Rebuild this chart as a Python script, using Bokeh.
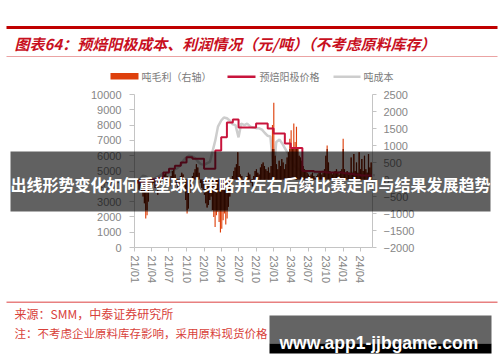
from math import pi

import pandas as pd
from bokeh.plotting import figure
from bokeh.models import (Range1d, LinearAxis, FixedTicker, DatetimeTickFormatter,
                          BoxAnnotation, Label)
from bokeh.embed import file_html
from bokeh.resources import INLINE

# ---------------- data ----------------
QUARTER_TICKS = ["2021-01", "2021-04", "2021-07", "2021-10",
                 "2022-01", "2022-04", "2022-07", "2022-10",
                 "2023-01", "2023-04", "2023-07", "2023-10",
                 "2024-01", "2024-04"]
LEFT_TICKS = [0, 1000, 2000, 3000, 4000, 5000, 6000, 7000, 8000, 9000, 10000]
RIGHT_TICKS = [-2000, -1500, -1000, -500, 0, 500, 1000, 1500, 2000, 2500]

# pre-baked anode price, monthly from 2021-01 (yuan/t)
PRICE_START = "2021-01-01"
anode_price = [4250, 4250, 4350, 4450, 4550, 4900, 5150, 5350, 5550, 5900,
               5800, 5800, 5150, 5150, 6340, 7200, 8170, 8370, 7850, 7850,
               7850, 8100, 8100, 7780, 7450, 7450, 6800, 6500, 6500, 5000,
               5000, 4950, 4950, 4900, 4900, 4900, 4850, 4800, 4750, 4700,
               4700, 4700]

# cost per tonne, twice a month from 2021-01 (yuan/t)
COST_START = "2021-01-01"
unit_cost = [4300, 4350, 4500, 4700, 4650, 4500, 4450, 4500, 4600, 4700,
             4840, 4850, 4900, 4950, 5100, 5200, 5400, 5700, 5900, 6000,
             5950, 5850, 5600, 5450, 5400, 5500, 5600, 6300, 7000, 7900,
             8300, 8500, 8450, 8300, 8050, 8000, 7200, 8100, 8000, 8100,
             7900, 7850, 7800, 7800, 7700, 7500, 7300, 7250, 5000, 6900,
             7050, 6800, 6500, 6200, 5900, 5400, 5200, 5100, 5000, 4950,
             4900, 4950, 4900, 4850, 4900, 4950, 4900, 4850, 4850, 4900,
             4950, 4900, 4850, 4800, 4850, 4900, 4850, 4800, 4750, 4800,
             4850, 4800, 4750, 4700]

# gross profit per tonne, weekly from 2021-01-04 (yuan/t, right axis)
PROFIT_START = "2021-01-04"
unit_profit = [-150, -250, -100, -300, -200, -350, -500, -700, -1150, -1050,
               -650, -300, -200, -150, -100, -250, -200, -450, -150, -100,
               50, 100, 150, 200, 100, -100, -200, 100, 250, 300,
               150, -150, -300, -250, 100, 200, 150, -200, -600, -1000,
               -850, -400, -200, 100, 200, 300, 450, 350, 200, -100,
               -250, -300, -450, -700, -820, -750, -600, -500, -900, -1100,
               -1400, -1050, -950, -1250, -1560, -1450, -1200, -1000, -1320, -1150,
               -800, -500, -200, 100, 250, 350, 450, 800, 400, 150,
               100, -100, -250, -150, 100, 200, 150, -100, -200, 100,
               250, 300, 200, 150, 350, 450, 500, 400, 300, 250,
               350, 200, 400, 1600, 2260, 700, 450, 300, 550, 400,
               600, 500, 300, 450, 650, 800, 1200, 1450, 950, 1650,
               1100, 1550, 900, 700, 650, 550, 400, 300, 250, 200,
               150, 100, 150, 200, 100, 50, 100, 150, 200, 250,
               150, 200, 300, 700, 1000, 500, 250, 200, 150, 200,
               250, 300, 200, 150, 250, 300, 1200, 300, 200, 250,
               150, 200, 650, 200, 750, 250, 500, 200, 800, 300,
               600, 250, 700, 300, 200, 750, 350, 500]

price_dates = pd.date_range(PRICE_START, periods=len(anode_price), freq="MS")
cost_dates = pd.date_range(COST_START, periods=len(unit_cost), freq="SMS")
profit_dates = pd.date_range(PROFIT_START, periods=len(unit_profit), freq="7D")

# ---------------- geometry ----------------
W, H = 500, 362
# chart area inside the page (pixels)
PL, PR, PT, PB = 134, 372, 94, 247
T0 = pd.Timestamp("2021-01-01")      # at left edge of chart area
T1 = pd.Timestamp("2024-06-03")      # at right edge of chart area
LEFT_LO, LEFT_HI = 0, 10000
RIGHT_LO, RIGHT_HI = -2000, 2500

# the frame spans the whole page; ranges are widened so the chart area lands at PL..PR / PT..PB
t0_ms = T0.value / 1e6
t1_ms = T1.value / 1e6
ms_px = (t1_ms - t0_ms) / (PR - PL)
x_range = Range1d(t0_ms - PL * ms_px, t1_ms + (W - PR) * ms_px)
u_left = (LEFT_HI - LEFT_LO) / (PB - PT)
y_range = Range1d(LEFT_LO - (H - PB) * u_left, LEFT_HI + PT * u_left)
u_right = (RIGHT_HI - RIGHT_LO) / (PB - PT)
profit_range = Range1d(RIGHT_LO - (H - PB) * u_right, RIGHT_HI + PT * u_right)

# ---------------- styling ----------------
RED = "#c8101e"
PRICE_COLOR = "#c8143c"
COST_COLOR = "#cdcdcd"
BAR_BRIGHT = "#de400c"
BAR_DARK = "#6a1600"
AXIS_COLOR = "#c4c4c4"
TICK_TEXT = "#868686"
CJK = "Noto Sans CJK SC"

p = figure(width=W, height=H, output_backend="svg", toolbar_location=None,
           x_axis_type="datetime", x_axis_location=None, y_axis_location=None,
           x_range=x_range, y_range=y_range, min_border=0)
p.extra_y_ranges = {"profit": profit_range}
p.outline_line_color = None
p.grid.visible = False
p.background_fill_color = "white"
p.border_fill_color = "white"

left_axis = LinearAxis(fixed_location=t0_ms, bounds=(LEFT_LO, LEFT_HI))
right_axis = LinearAxis(y_range_name="profit", fixed_location=t1_ms,
                        bounds=(RIGHT_LO, RIGHT_HI))
bottom_axis = LinearAxis(fixed_location=LEFT_LO, bounds=(t0_ms, t1_ms))
p.add_layout(left_axis, "left")
p.add_layout(right_axis, "right")
p.add_layout(bottom_axis, "below")


def style_axis(ax, standoff, tick_out):
    ax.axis_line_color = AXIS_COLOR
    ax.major_tick_line_color = AXIS_COLOR
    ax.minor_tick_line_color = None
    ax.major_tick_in = 0
    ax.major_tick_out = tick_out
    ax.major_label_standoff = standoff
    ax.major_label_text_font = "Liberation Sans"
    ax.major_label_text_font_size = "11px"
    ax.major_label_text_color = TICK_TEXT


style_axis(left_axis, 8, 5)
style_axis(right_axis, 7, 4)
style_axis(bottom_axis, 4, 4)
left_axis.ticker = FixedTicker(ticks=LEFT_TICKS)
right_axis.ticker = FixedTicker(ticks=RIGHT_TICKS)
bottom_axis.ticker = FixedTicker(
    ticks=[pd.Timestamp(t + "-01").value // 10**6 for t in QUARTER_TICKS])
fmt = "%y/%m"
bottom_axis.formatter = DatetimeTickFormatter(
    microseconds=fmt, milliseconds=fmt, seconds=fmt, minsec=fmt, minutes=fmt,
    hourmin=fmt, hours=fmt, days=fmt, months=fmt, years=fmt)
bottom_axis.major_label_orientation = -pi / 2

# ---------------- marks ----------------
p.line(cost_dates, unit_cost, line_color=COST_COLOR, line_width=2.5)

bar_w = 6 * 24 * 3600 * 1000
p.vbar(x=profit_dates, top=unit_profit, bottom=0, width=bar_w,
       y_range_name="profit", fill_color=BAR_BRIGHT, line_color=None)
core = [max(-900, min(900, v)) for v in unit_profit]
p.vbar(x=profit_dates, top=core, bottom=0, width=bar_w,
       y_range_name="profit", fill_color=BAR_DARK, line_color=None)

p.step(price_dates, anode_price, mode="after", line_color=PRICE_COLOR, line_width=2)


# ---------------- page furniture (canvas pixels) ----------------
def box(l, r, t, b, color, alpha=1.0, level="annotation"):
    p.add_layout(BoxAnnotation(left=l, right=r, top=t, bottom=b,
                               left_units="canvas", right_units="canvas",
                               top_units="canvas", bottom_units="canvas",
                               fill_color=color, fill_alpha=alpha,
                               line_color=None, level=level))


def label(x, y, text, size, color, font=CJK, style="normal", align="left",
          baseline="middle", level="annotation"):
    p.add_layout(Label(x=x, y=y, x_units="canvas", y_units="canvas", text=text,
                       text_font=font, text_font_size=size, text_color=color,
                       text_font_style=style, text_align=align,
                       text_baseline=baseline, level=level))


# header
box(6, 497, 25.5, 28.5, "#c00000")
label(14, 43, "图表64：预焙阳极成本、利润情况（元/吨）（不考虑原料库存）",
      "15px", RED, style="bold italic")
box(6, 497, 55.5, 56.5, "#eba3a3")

# legend
box(110, 138, 72.5, 79, BAR_BRIGHT)
label(141, 76, "吨毛利（右轴）", "10px", "#7a7a7a")
box(227, 255, 75, 77.5, PRICE_COLOR)
label(259, 76, "预焙阳极价格", "10px", "#7a7a7a")
box(333, 360, 75, 77.5, COST_COLOR)
label(363, 76, "吨成本", "10px", "#7a7a7a")

# footer
box(6, 497, 301, 302.5, "#e88080")
label(14, 313, "来源：SMM，中泰证券研究所", "12px", "#d8413a")
label(14, 332, "注：不考虑企业原料库存影响，采用原料现货价格", "11.5px", "#d8413a")

# overlay banner across the chart
box(10, 490, 151, 211, "black", alpha=0.62, level="overlay")
label(250, 183, "出线形势变化如何重塑球队策略并左右后续比赛走向与结果发展趋势",
      "16px", "white", style="bold", align="center", level="overlay")

# site stamp
box(269, 491, 315, 343, "#646464", level="overlay")
box(269, 491, 343, 353, "black", level="overlay")
label(279, 342, "www.app1-jjbgame.com", "17.5px", "white", font="Liberation Sans",
      style="bold", baseline="alphabetic", level="overlay")

open("out.html", "w").write(file_html(p, INLINE))
